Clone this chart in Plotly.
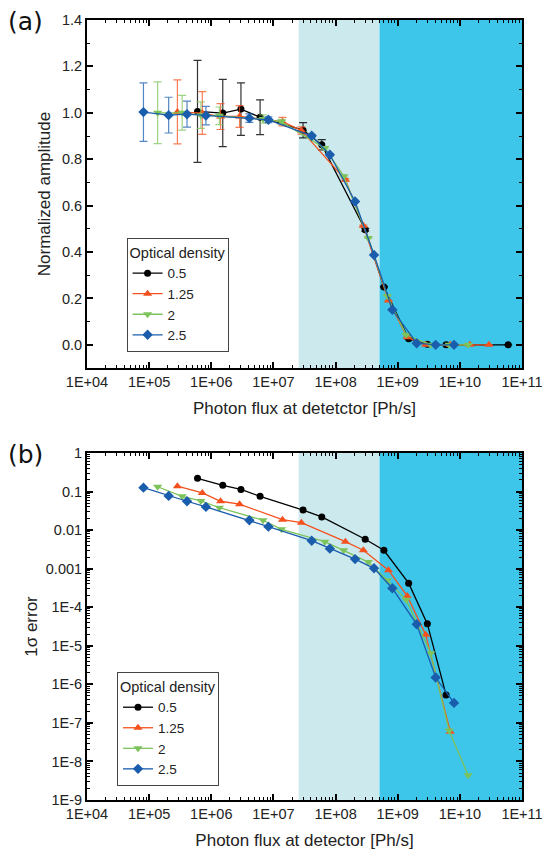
import plotly.graph_objects as go

# ---------------- data ----------------
series_names = ["0.5", "1.25", "2", "2.5"]

flux_05 = [6.0e5, 1.53e6, 3.0e6, 6.1e6, 3.0e7, 6.0e7, 3.0e8, 6.0e8, 1.5e9, 3.0e9, 6.0e9, 6.0e10]
amp_05 = [1.006, 0.999, 1.016, 0.981, 0.925, 0.862, 0.496, 0.249, 0.026, 0.002, 0.0, 0.0]
sig_05 = [0.22, 0.145, 0.113, 0.075, 0.033, 0.022, 0.0058, 0.0030, 4.2e-4, 3.7e-5, 5.3e-7]

flux_125 = [2.85e5, 7.17e5, 1.41e6, 2.85e6, 1.4e7, 2.82e7, 1.44e8, 2.8e8, 7.1e8, 1.42e9, 2.82e9, 7.0e9, 1.45e10, 2.94e10]
amp_125 = [1.004, 0.999, 0.984, 0.984, 0.962, 0.924, 0.711, 0.513, 0.191, 0.033, 0.0, 0.0, 0.0, 0.0]
sig_125 = [0.138, 0.092, 0.056, 0.047, 0.0186, 0.0156, 0.0050, 0.0030, 9.1e-4, 1.96e-4, 1.94e-5, 5.9e-8]

flux_2 = [1.37e5, 3.4e5, 6.8e5, 1.35e6, 6.8e6, 1.35e7, 6.7e7, 1.35e8, 3.36e8, 6.8e8, 1.37e9, 3.4e9, 6.7e9, 1.36e10]
amp_2 = [1.0, 1.0, 0.99, 0.987, 0.973, 0.961, 0.848, 0.727, 0.46, 0.211, 0.043, 0.0, 0.0, 0.0]
sig_2 = [0.133, 0.075, 0.057, 0.038, 0.018, 0.0105, 0.0050, 0.0030, 0.00148, 5.0e-4, 1.55e-4, 6.4e-6, 6.3e-8, 4.4e-9]

flux_25 = [8.1e4, 2.06e5, 4.07e5, 8.2e5, 4.1e6, 8.3e6, 4.13e7, 8.1e7, 2.06e8, 4.16e8, 8.2e8, 2.02e9, 4.08e9, 8.06e9]
amp_25 = [1.003, 0.99, 0.994, 0.988, 0.977, 0.97, 0.901, 0.819, 0.618, 0.387, 0.151, 0.007, 0.0, 0.0]
sig_25 = [0.126, 0.077, 0.056, 0.04, 0.018, 0.0123, 0.0053, 0.0033, 0.00177, 0.00102, 3.1e-4, 3.6e-5, 1.5e-6, 3.3e-7]

x_tick_vals = [1e4, 1e5, 1e6, 1e7, 1e8, 1e9, 1e10, 1e11]
x_tick_text = ["1E+04", "1E+05", "1E+06", "1E+07", "1E+08", "1E+09", "1E+10", "1E+11"]
y2_tick_vals = [1, 1e-1, 1e-2, 1e-3, 1e-4, 1e-5, 1e-6, 1e-7, 1e-8, 1e-9]
y2_tick_text = ["1", "0.1", "0.01", "0.001", "1E-4", "1E-5", "1E-6", "1E-7", "1E-8", "1E-9"]

light_region = [2.55e7, 5.1e8]
dark_region = [5.1e8, 1e11]

# ---------------- styling ----------------
colors = ["#000000", "#F4511E", "#7DC35B", "#1A5DAD"]
err_colors = ["rgba(0,0,0,0.8)", "rgba(244,81,30,0.75)", "rgba(125,195,91,0.75)", "rgba(26,93,173,0.75)"]
symbols = ["circle", "triangle-up", "triangle-down", "diamond"]
msizes = [7, 8, 8, 8]
FONT = "Liberation Sans, Arial, sans-serif"

fluxes = [flux_05, flux_125, flux_2, flux_25]
amps = [amp_05, amp_125, amp_2, amp_25]
sigs = [sig_05, sig_125, sig_2, sig_25]

fig = go.Figure()

for i in range(4):
    fx, am, sg = fluxes[i], amps[i], sigs[i]
    err = list(sg) + [0.0] * (len(fx) - len(sg))
    fig.add_trace(go.Scatter(
        x=fx, y=am, mode="lines+markers", name=series_names[i],
        line=dict(color=colors[i], width=1.3),
        marker=dict(symbol=symbols[i], size=msizes[i], color=colors[i]),
        error_y=dict(type="data", array=err, visible=True, color=err_colors[i], thickness=1.2, width=4),
        xaxis="x", yaxis="y", legend="legend",
    ))

for i in range(4):
    fx, sg = fluxes[i], sigs[i]
    fig.add_trace(go.Scatter(
        x=fx[:len(sg)], y=sg, mode="lines+markers", name=series_names[i],
        line=dict(color=colors[i], width=1.3),
        marker=dict(symbol=symbols[i], size=msizes[i], color=colors[i]),
        xaxis="x2", yaxis="y2", legend="legend2",
    ))

shapes = []
for xr, yr in [("x", "y domain"), ("x2", "y2 domain")]:
    shapes.append(dict(type="rect", xref=xr, yref=yr, x0=light_region[0], x1=light_region[1],
                       y0=0, y1=1, fillcolor="#CCE9ED", line=dict(width=0), layer="below"))
    shapes.append(dict(type="rect", xref=xr, yref=yr, x0=dark_region[0], x1=dark_region[1],
                       y0=0, y1=1, fillcolor="#3EC6EA", line=dict(width=0), layer="below"))

minor_x = [m * 10 ** e for e in range(4, 11) for m in range(2, 10)]
minor_y2 = [m * 10.0 ** e for e in range(-9, 0) for m in range(2, 10)]

axis_common = dict(
    showline=True, linecolor="black", linewidth=2, mirror="allticks",
    ticks="inside", tickcolor="black", tickwidth=1.5, ticklen=6,
    showgrid=False, zeroline=False, automargin=False,
    tickfont=dict(family=FONT, size=14.5, color="#222"),
)

xaxis_common = dict(axis_common, type="log", range=[4, 11],
                    tickvals=x_tick_vals, ticktext=x_tick_text,
                    minor=dict(ticks="inside", ticklen=3, tickcolor="black", tickwidth=1.2, tickvals=minor_x))

TITLE_FONT = dict(family=FONT, size=17, color="#222")

fig.update_layout(
    width=543, height=851,
    margin=dict(l=87, r=21, t=20, b=51),
    paper_bgcolor="white", plot_bgcolor="white",
    font=dict(family=FONT, size=13, color="#222"),
    shapes=shapes,
    xaxis=dict(xaxis_common, anchor="y",
               title=dict(text="Photon flux at detetctor [Ph/s]", font=TITLE_FONT, standoff=13)),
    yaxis=dict(axis_common, domain=[0.5538, 1], range=[-0.1, 1.4], anchor="x",
               tickvals=[0, 0.2, 0.4, 0.6, 0.8, 1.0, 1.2, 1.4],
               ticktext=["0.0", "0.2", "0.4", "0.6", "0.8", "1.0", "1.2", "1.4"],
               minor=dict(ticks="inside", ticklen=3, tickcolor="black", tickwidth=1.2,
                          tickvals=[-0.1, 0.1, 0.3, 0.5, 0.7, 0.9, 1.1, 1.3]),
               title=dict(text="Normalized amplitude", font=TITLE_FONT, standoff=7)),
    xaxis2=dict(xaxis_common, anchor="y2",
                title=dict(text="Photon flux at detector [Ph/s]", font=TITLE_FONT, standoff=13)),
    yaxis2=dict(axis_common, domain=[0, 0.4449], type="log", range=[-9, 0], anchor="x2",
                tickvals=y2_tick_vals, ticktext=y2_tick_text,
                minor=dict(ticks="inside", ticklen=3, tickcolor="black", tickwidth=1.2, tickvals=minor_y2),
                title=dict(text="1σ error", font=TITLE_FONT, standoff=4)),
    legend=dict(x=0.091, y=0.7205, xanchor="left", yanchor="top",
                bgcolor="white", bordercolor="#444", borderwidth=1,
                title=dict(text="Optical density", font=dict(size=14.5)),
                font=dict(size=13.5), tracegroupgap=0),
    legend2=dict(x=0.069, y=0.164, xanchor="left", yanchor="top",
                 bgcolor="white", bordercolor="#444", borderwidth=1,
                 title=dict(text="Optical density", font=dict(size=14.5)),
                 font=dict(size=13.5), tracegroupgap=0),
    annotations=[
        dict(text="(a)", x=0.0, y=1.0, xref="paper", yref="paper", showarrow=False,
             xanchor="left", yanchor="top", font=dict(family="DejaVu Sans", size=25, color="#111"),
             xshift=-81, yshift=15),
        dict(text="(b)", x=0.0, y=0.4449, xref="paper", yref="paper", showarrow=False,
             xanchor="left", yanchor="top", font=dict(family="DejaVu Sans", size=25, color="#111"),
             xshift=-81, yshift=15),
    ],
)

fig.write_html("out.html", post_script="document.body.style.margin='0px';",
               config={"displayModeBar": False})
